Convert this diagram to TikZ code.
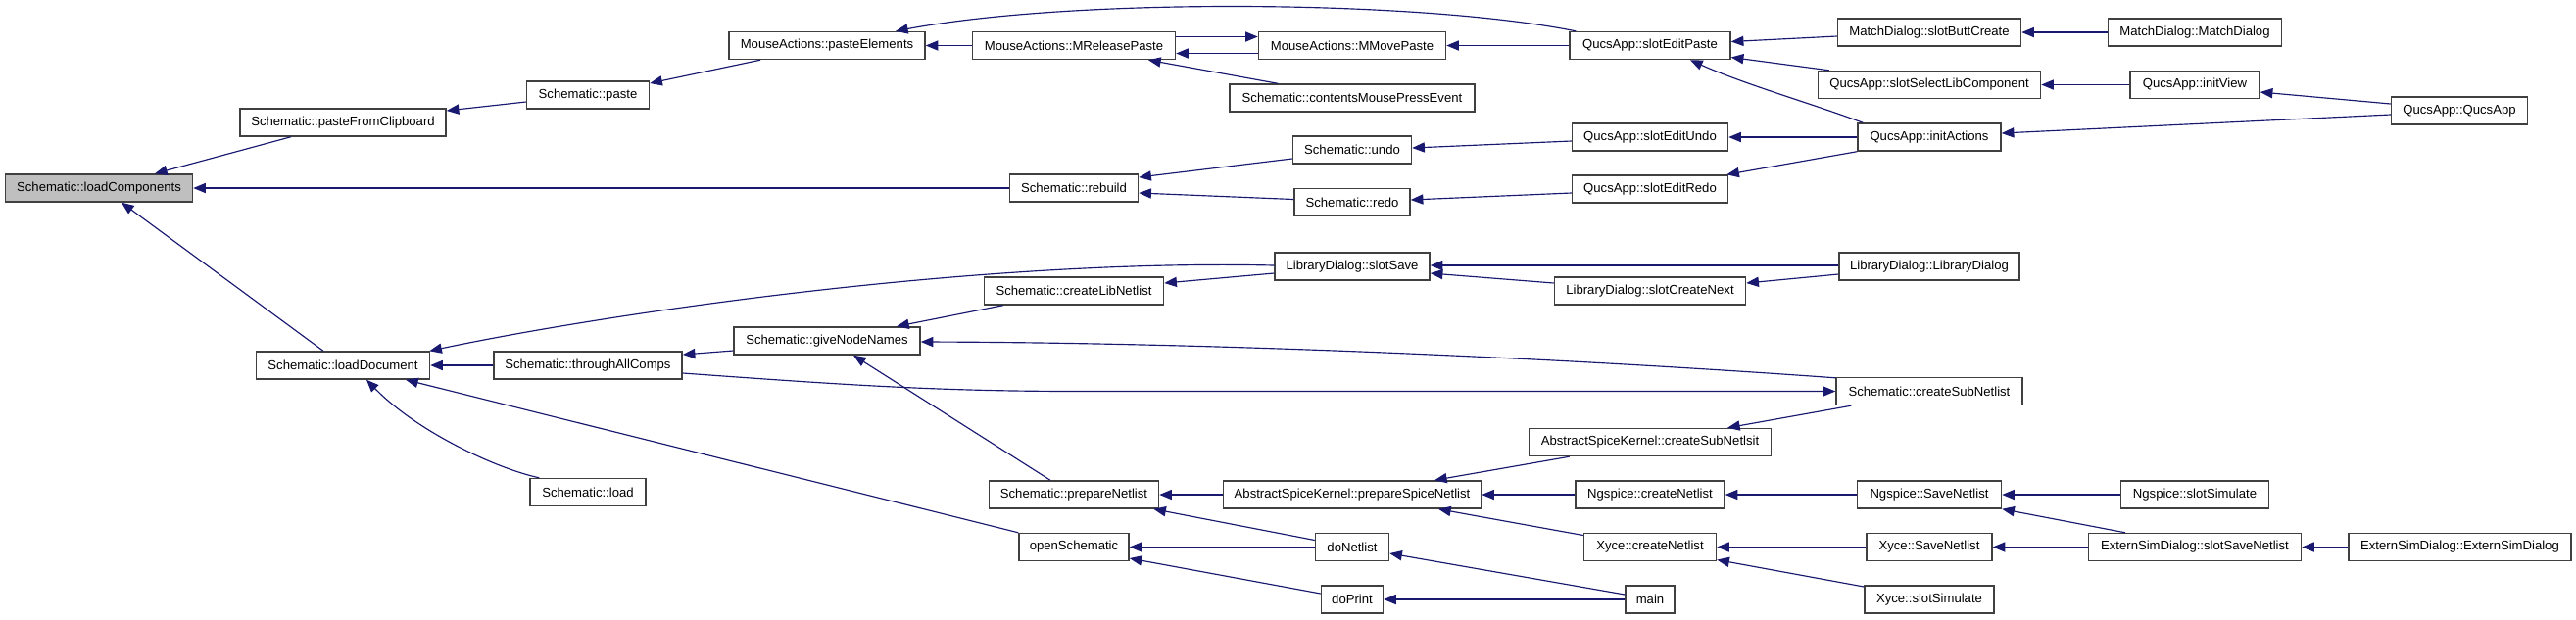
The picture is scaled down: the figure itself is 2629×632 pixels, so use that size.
\documentclass[tikz,border=0pt]{standalone}
\usepackage{fontspec}
\setmainfont{Liberation Sans}
\usetikzlibrary{
  arrows.meta,
  calc
}
\definecolor{edgeblue}{RGB}{25,25,112}
\definecolor{boxline}{RGB}{64,64,64}
\definecolor{hilite}{RGB}{191,191,191}

\begin{document}
\begin{tikzpicture}[x=0.01cm, y=-0.01cm,
  fn/.style={draw=boxline, fill=white, line width=0.4pt, minimum height=0.28cm, inner sep=0pt, font=\fontsize{3.73}{4.4}\selectfont},
  calls/.style={draw=edgeblue, line width=0.33pt, -{Triangle[length=3.6pt, width=2.9pt]}}]
  \useasboundingbox (0,0) rectangle (2629,632);
  \node[fn, fill=hilite, minimum width=1.91cm] (lc) at (101,192) {Schematic::loadComponents};
  \node[fn, minimum width=2.10cm] (pfc) at (350,125) {Schematic::pasteFromClipboard};
  \node[fn, minimum width=1.25cm] (paste) at (600,97) {Schematic::paste};
  \node[fn, minimum width=2.00cm] (pe) at (844,46.5) {MouseActions::pasteElements};
  \node[fn, minimum width=2.07cm] (mrp) at (1096,46.5) {MouseActions::MReleasePaste};
  \node[fn, minimum width=1.91cm] (mmp) at (1380,46.5) {MouseActions::MMovePaste};
  \node[fn, minimum width=2.50cm] (cmpe) at (1380,100) {Schematic::contentsMousePressEvent};
  \node[fn, minimum width=1.64cm] (sep) at (1684,46.5) {QucsApp::slotEditPaste};
  \node[fn, minimum width=1.87cm] (sbc) at (1969,33) {MatchDialog::slotButtCreate};
  \node[fn, minimum width=1.77cm] (md) at (2240,33) {MatchDialog::MatchDialog};
  \node[fn, minimum width=2.27cm] (slc) at (1969,86.5) {QucsApp::slotSelectLibComponent};
  \node[fn, minimum width=1.32cm] (iv) at (2240,86.5) {QucsApp::initView};
  \node[fn, minimum width=1.39cm] (qa) at (2510,113) {QucsApp::QucsApp};
  \node[fn, minimum width=1.46cm] (ia) at (1969,140) {QucsApp::initActions};
  \node[fn, minimum width=1.59cm] (seu) at (1684,140) {QucsApp::slotEditUndo};
  \node[fn, minimum width=1.59cm] (ser) at (1684,193) {QucsApp::slotEditRedo};
  \node[fn, minimum width=1.21cm] (undo) at (1380,153) {Schematic::undo};
  \node[fn, minimum width=1.18cm] (redo) at (1380,206.5) {Schematic::redo};
  \node[fn, minimum width=1.31cm] (rebuild) at (1096,192) {Schematic::rebuild};
  \node[fn, minimum width=1.58cm] (ss) at (1380,272) {LibraryDialog::slotSave};
  \node[fn, minimum width=1.95cm] (scn) at (1684,297) {LibraryDialog::slotCreateNext};
  \node[fn, minimum width=1.84cm] (ld) at (1969,272) {LibraryDialog::LibraryDialog};
  \node[fn, minimum width=1.83cm] (cln) at (1096,297) {Schematic::createLibNetlist};
  \node[fn, minimum width=1.90cm] (gnn) at (844,348) {Schematic::giveNodeNames};
  \node[fn, minimum width=1.92cm] (tac) at (600,373) {Schematic::throughAllComps};
  \node[fn, minimum width=1.77cm] (ldoc) at (350,373) {Schematic::loadDocument};
  \node[fn, minimum width=1.18cm] (load) at (600,502.5) {Schematic::load};
  \node[fn, minimum width=1.90cm] (csn) at (1969,399.5) {Schematic::createSubNetlist};
  \node[fn, minimum width=2.47cm] (aksub) at (1684,451.5) {AbstractSpiceKernel::createSubNetlsit};
  \node[fn, minimum width=1.73cm] (pn) at (1096,505) {Schematic::prepareNetlist};
  \node[fn, minimum width=2.63cm] (psn) at (1380,505) {AbstractSpiceKernel::prepareSpiceNetlist};
  \node[fn, minimum width=1.52cm] (ncn) at (1684,505) {Ngspice::createNetlist};
  \node[fn, minimum width=1.47cm] (nsn) at (1969,505) {Ngspice::SaveNetlist};
  \node[fn, minimum width=1.51cm] (nss) at (2240,505) {Ngspice::slotSimulate};
  \node[fn, minimum width=1.12cm] (os) at (1096,558.5) {openSchematic};
  \node[fn, minimum width=0.75cm] (dn) at (1380,558.5) {doNetlist};
  \node[fn, minimum width=1.35cm] (xcn) at (1684,558.5) {Xyce::createNetlist};
  \node[fn, minimum width=1.28cm] (xsn) at (1969,558.5) {Xyce::SaveNetlist};
  \node[fn, minimum width=2.17cm] (essn) at (2240,558.5) {ExternSimDialog::slotSaveNetlist};
  \node[fn, minimum width=2.27cm] (esd) at (2510.5,558.5) {ExternSimDialog::ExternSimDialog};
  \node[fn, minimum width=0.63cm] (dp) at (1380,612) {doPrint};
  \node[fn, minimum width=0.50cm] (main) at (1684,612) {main};
  \node[fn, minimum width=1.32cm] (xss) at (1969,612) {Xyce::slotSimulate};
  \draw[calls] ($(pfc.south)+(-53,0)$) -- ($(lc.north)+(57,0)$);
  \draw[calls] (rebuild.west) -- (lc.east);
  \draw[calls] ($(ldoc.north)+(-20,0)$) -- ($(lc.south)+(23,0)$);
  \draw[calls] ($(paste.west)+(0,7)$) -- ($(pfc.east)+(0,-12)$);
  \draw[calls] ($(pe.south)+(-68,0)$) -- ($(paste.east)+(0,-12)$);
  \draw[calls] (mrp.west) -- (pe.east);
  \draw[calls] ($(sep.north west)+(7,0)$) .. controls (1450,0) and (1100,-3) .. ($(pe.north)+(70,0)$);
  \draw[calls] ($(mrp.east)+(0,-9)$) -- ($(mmp.west)+(0,-9)$);
  \draw[calls] ($(mmp.west)+(0,8)$) -- ($(mrp.east)+(0,8)$);
  \draw[calls] ($(cmpe.north west)+(50,0)$) -- ($(mrp.south)+(76,0)$);
  \draw[calls] (sep.west) -- (mmp.east);
  \draw[calls] ($(sbc.west)+(0,4)$) -- ($(sep.east)+(0,-4)$);
  \draw[calls] ($(slc.north west)+(12,0)$) -- ($(sep.east)+(0,12)$);
  \draw[calls] ($(ia.north west)+(6,0)$) .. controls (1850,106) and (1780,86) .. ($(sep.south)+(41,0)$);
  \draw[calls] (md.west) -- (sbc.east);
  \draw[calls] (iv.west) -- (slc.east);
  \draw[calls] ($(qa.west)+(0,-7)$) -- ($(iv.east)+(0,7.5)$);
  \draw[calls] ($(qa.west)+(0,4)$) -- ($(ia.east)+(0,-4)$);
  \draw[calls] ($(undo.west)+(0,9)$) -- ($(rebuild.east)+(0,-11)$);
  \draw[calls] ($(redo.west)+(0,-3)$) -- ($(rebuild.east)+(0,5)$);
  \draw[calls] ($(seu.west)+(0,4)$) -- ($(undo.east)+(0,-2)$);
  \draw[calls] ($(ser.west)+(0,4)$) -- ($(redo.east)+(0,-2.5)$);
  \draw[calls] (ia.west) -- (seu.east);
  \draw[calls] (ia.south west) -- ($(ser.north east)+(-2,0)$);
  \draw[calls] ($(ss.west)+(0,-1)$) .. controls (1000,264) and (620,320) .. ($(ldoc.north east)+(-1,0)$);
  \draw[calls] ($(ss.west)+(0,7)$) -- ($(cln.east)+(0,-8)$);
  \draw[calls] ($(cln.south west)+(20,0)$) -- ($(gnn.north)+(71,0)$);
  \draw[calls] ($(gnn.west)+(0,10)$) -- ($(tac.east)+(0,-11)$);
  \draw[calls] (tac.west) -- (ldoc.east);
  \draw[calls] ($(load.north west)+(10,0)$) .. controls (505,478) and (425,440) .. ($(ldoc.south)+(24,0)$);
  \draw[calls] (os.north west) -- ($(ldoc.south)+(64,0)$);
  \draw[calls] ($(csn.north west)+(0,1)$) .. controls (1600,366) and (1250,350) .. ($(gnn.east)+(0,1)$);
  \draw[calls] ($(tac.east)+(0,8)$) .. controls (850,392) and (950,399.5) .. (1100,399.5) -- (csn.west);
  \draw[calls] ($(pn.north)+(-24,0)$) -- ($(gnn.south)+(27,0)$);
  \draw[calls] (psn.west) -- (pn.east);
  \draw[calls] ($(dn.west)+(0,-7)$) -- ($(pn.south east)+(-6,0)$);
  \draw[calls] (dn.west) -- (os.east);
  \draw[calls] ($(dp.west)+(0,-6)$) -- ($(os.east)+(0,11.5)$);
  \draw[calls] ($(scn.west)+(0,-8)$) -- ($(ss.east)+(0,7)$);
  \draw[calls] ($(ld.west)+(0,-1)$) -- ($(ss.east)+(0,-1)$);
  \draw[calls] ($(ld.west)+(0,8)$) -- ($(scn.east)+(0,-8)$);
  \draw[calls] ($(csn.south west)+(16,0)$) -- ($(aksub.north)+(79,0)$);
  \draw[calls] ($(aksub.south west)+(42,0)$) -- ($(psn.north)+(84,0)$);
  \draw[calls] (ncn.west) -- (psn.east);
  \draw[calls] ($(xcn.west)+(0,-12)$) -- ($(psn.south)+(88,0)$);
  \draw[calls] (nsn.west) -- (ncn.east);
  \draw[calls] (xsn.west) -- (xcn.east);
  \draw[calls] ($(xss.west)+(0,-13)$) -- ($(xcn.east)+(0,13)$);
  \draw[calls] ($(main.west)+(0,-5)$) -- ($(dn.east)+(0,6.5)$);
  \draw[calls] (main.west) -- (dp.east);
  \draw[calls] (nss.west) -- (nsn.east);
  \draw[calls] ($(essn.north)+(-71,0)$) -- (nsn.south east);
  \draw[calls] (essn.west) -- (xsn.east);
  \draw[calls] (esd.west) -- (essn.east);
\end{tikzpicture}
\end{document}
